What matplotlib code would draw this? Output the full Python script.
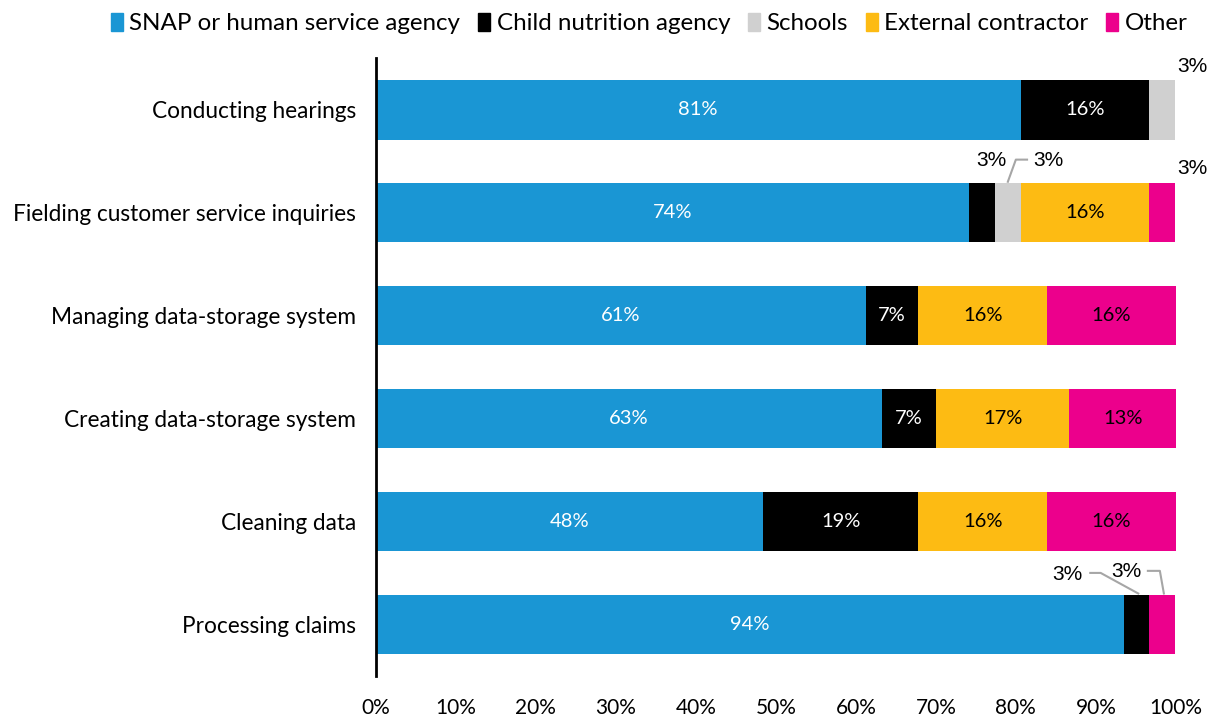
import matplotlib.pyplot as plt
from matplotlib.patches import Patch

plt.rcParams['font.family'] = ['Lato', 'DejaVu Sans']

categories = ['Conducting hearings', 'Fielding customer service inquiries',
              'Managing data-storage system', 'Creating data-storage system',
              'Cleaning data', 'Processing claims']
series = ['SNAP or human service agency', 'Child nutrition agency', 'Schools',
          'External contractor', 'Other']
colors = ['#1a96d4', '#000000', '#d0d0d0', '#fdbb13', '#ec008c']
text_colors = ['white', 'white', 'black', 'black', 'black']

snap = [80.6, 74.2, 61.3, 63.3, 48.4, 93.5]
child = [16.1, 3.2, 6.5, 6.7, 19.4, 3.2]
schools = [3.2, 3.2, 0, 0, 0, 0]
contractor = [0, 16.1, 16.1, 16.7, 16.1, 0]
other = [0, 3.2, 16.1, 13.3, 16.1, 3.2]
values = [snap, child, schools, contractor, other]

fig = plt.figure(figsize=(12.16, 7.19), dpi=100)
ax = fig.add_axes([0.309, 0.06, 0.658, 0.859])

left = [0] * len(categories)
for s, vals in enumerate(values):
    ax.barh(range(len(categories)), vals, left=left, height=0.58,
            color=colors[s], edgecolor='none')
    for i, v in enumerate(vals):
        if v >= 5:
            ax.text(left[i] + v / 2, i, f'{int(v + 0.5)}%', ha='center', va='center',
                    fontsize=14.5, color=text_colors[s])
    left = [l + v for l, v in zip(left, vals)]

# small segments labelled outside the bars
small = dict(fontsize=15, family='Liberation Sans', ha='center', va='center')
gl = dict(color='#a6a6a6', lw=1.5)
ax.text(102.1, -0.42, '3%', **small)               # hearings, schools
ax.text(76.9, 0.49, '3%', **small)                 # fielding, child nutrition
ax.text(84.1, 0.49, '3%', **small)                 # fielding, schools
ax.plot([79.0, 80.0, 81.4], [0.70, 0.485, 0.485], **gl)
ax.text(102.1, 0.57, '3%', **small)                # fielding, other
ax.text(86.5, 4.52, '3%', **small)                 # claims, child nutrition
ax.plot([89.3, 90.6, 95.3], [4.50, 4.50, 4.70], **gl)
ax.text(93.8, 4.49, '3%', **small)                 # claims, other
ax.plot([96.5, 98.0, 98.5], [4.48, 4.48, 4.70], **gl)

ax.set_xlim(0, 100)
ax.set_ylim(5.5, -0.5)
ax.set_yticks(range(len(categories)))
ax.set_yticklabels(categories, fontsize=16.3)
ax.set_xticks(range(0, 101, 10))
ax.set_xticklabels([f'{t}%' for t in range(0, 101, 10)], fontsize=15)
ax.tick_params(length=0)
ax.tick_params(axis='y', pad=14)
ax.tick_params(axis='x', pad=16)
for sp in ['top', 'right', 'bottom']:
    ax.spines[sp].set_visible(False)
ax.spines['left'].set_linewidth(2)

handles = [Patch(color=c, label=l) for c, l in zip(colors, series)]
fig.legend(handles=handles, loc='upper center', bbox_to_anchor=(0.534, 1.012),
           ncol=5, frameon=False, fontsize=17.4, handlelength=0.5, handleheight=0.75,
           handletextpad=0.25, columnspacing=0.75)

fig.savefig('out.png', dpi=100)
